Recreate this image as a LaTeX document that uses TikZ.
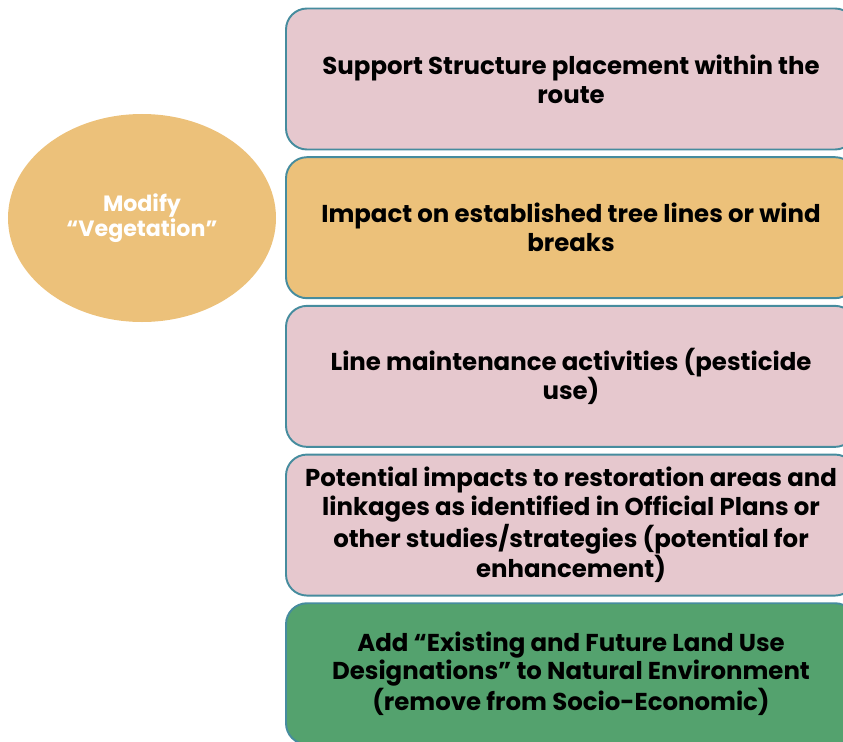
\documentclass[tikz,border=0pt]{standalone}
\usepackage{fontspec}
\setmainfont{Poppins}
\usepackage{tikz}
\usetikzlibrary{positioning,shapes.geometric}
\definecolor{boxPink}{RGB}{230,200,206}
\definecolor{boxSand}{RGB}{236,193,122}
\definecolor{boxGreen}{RGB}{84,162,110}
\definecolor{boxEdge}{RGB}{70,140,158}

\begin{document}
\begin{tikzpicture}[
    topic/.style={ellipse, fill=boxSand, minimum width=5.36cm, minimum height=4.16cm,
                  inner sep=0pt, text=white, align=center,
                  font=\fontsize{12.6}{14}\selectfont\bfseries},
    item/.style={rectangle, rounded corners=0.42cm, draw=boxEdge, line width=1.1pt,
                 minimum width=11.4cm, minimum height=2.82cm, align=center,
                 font=\fontsize{13.9}{16.4}\selectfont\bfseries},
  ]
  \useasboundingbox (0,0) rectangle (16.86,-14.84);
  \clip (0,0) rectangle (16.86,-14.84);

  % Central topic
  \node[topic] (veg) at (2.84,-4.36) {Modify\\``Vegetation''};

  % Stacked items
  \node[item, fill=boxPink] (route) at (11.42,-1.58)
    {Support Structure placement within the\\route};
  \node[item, fill=boxSand, below=0.115cm of route] (trees)
    {Impact on established tree lines or wind\\breaks};
  \node[item, fill=boxPink, below=0.115cm of trees] (maint)
    {Line maintenance activities (pesticide\\use)};
  \node[item, fill=boxPink, below=0.115cm of maint] (restore)
    {Potential impacts to restoration areas and\\linkages as identified in Official Plans or\\
     other studies/strategies (potential for\\enhancement)};
  \node[item, fill=boxGreen, below=0.115cm of restore] (landuse)
    {Add ``Existing and Future Land Use\\Designations'' to Natural Environment\\
     (remove from Socio-Economic)};
\end{tikzpicture}
\end{document}
